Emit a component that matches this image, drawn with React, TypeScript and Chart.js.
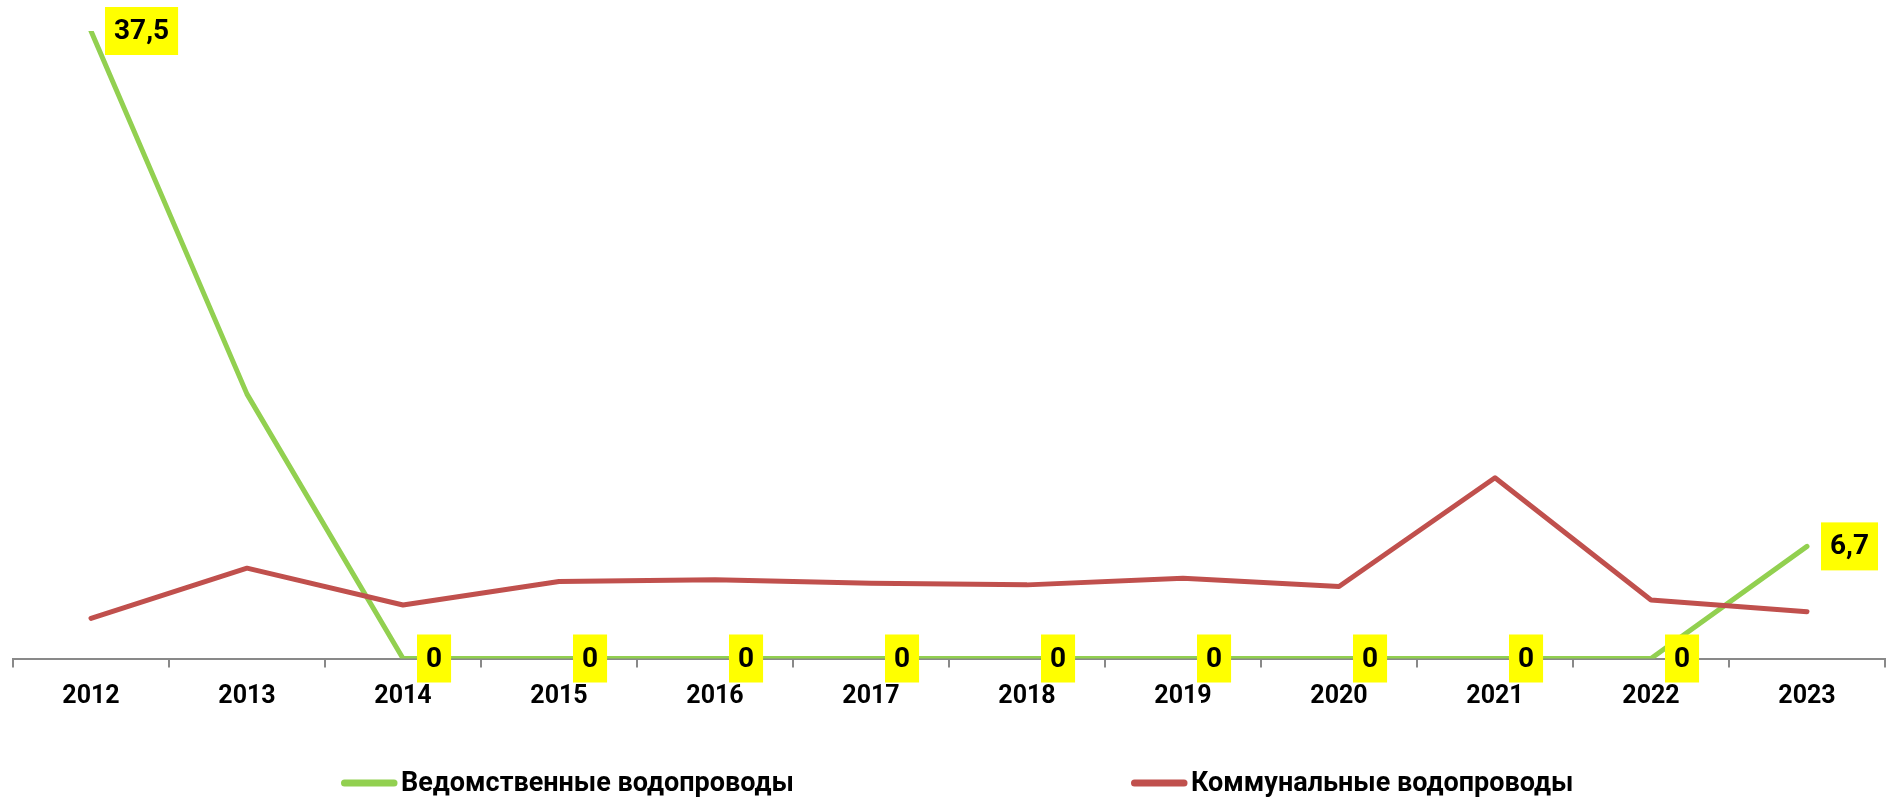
import React, { useEffect, useRef } from "react";
import { Chart, registerables } from "chart.js";

Chart.register(...registerables);

const years = ["2012", "2013", "2014", "2015", "2016", "2017", "2018", "2019", "2020", "2021", "2022", "2023"];
const vedomstvennye = [37.5, 15.8, 0, 0, 0, 0, 0, 0, 0, 0, 0, 6.7];
const kommunalnye = [2.4, 5.4, 3.2, 4.6, 4.7, 4.5, 4.4, 4.8, 4.3, 10.8, 3.5, 2.8];
const vedomstvennyeLabels = ["37,5", "", "0", "0", "0", "0", "0", "0", "0", "0", "0", "6,7"];
const seriesNames = ["Ведомственные водопроводы", "Коммунальные водопроводы"];

const GREEN = "#92D050";
const RED = "#C0504D";
const FONT = "Roboto, 'Noto Sans', sans-serif";

const labelPlugin = {
  id: "yellowLabels",
  afterDatasetsDraw(chart: any) {
    const ctx = chart.ctx;
    const meta = chart.getDatasetMeta(0);
    ctx.save();
    ctx.font = `bold 28px ${FONT}`;
    ctx.textAlign = "center";
    ctx.textBaseline = "middle";
    meta.data.forEach((pt: any, i: number) => {
      const txt = vedomstvennyeLabels[i];
      if (!txt) return;
      const w = ctx.measureText(txt).width + 18;
      const h = 48;
      const x0 = pt.x + 14;
      const y0 = pt.y - h / 2;
      ctx.fillStyle = "#FFFF00";
      ctx.fillRect(x0, y0, w, h);
      ctx.fillStyle = "#000000";
      ctx.fillText(txt, x0 + w / 2, pt.y + 1);
    });
    ctx.restore();
  },
};

const legendPlugin = {
  id: "customLegend",
  afterDraw(chart: any) {
    const ctx = chart.ctx;
    const positions = [341, 1131];
    const y = 783;
    ctx.save();
    ctx.font = `bold 27px ${FONT}`;
    ctx.textAlign = "left";
    ctx.textBaseline = "middle";
    chart.data.datasets.forEach((ds: any, i: number) => {
      const x = positions[i];
      ctx.strokeStyle = ds.borderColor;
      ctx.lineWidth = 7;
      ctx.lineCap = "round";
      ctx.beginPath();
      ctx.moveTo(x + 3.5, y);
      ctx.lineTo(x + 53, y);
      ctx.stroke();
      ctx.fillStyle = "#000000";
      ctx.fillText(ds.label, x + 60, y + 1);
    });
    ctx.restore();
  },
};

export default function App() {
  const ref = useRef<HTMLCanvasElement>(null);
  useEffect(() => {
    if (!ref.current) return;
    const chart = new Chart(ref.current, {
      type: "line",
      data: {
        labels: years,
        datasets: [
          {
            label: seriesNames[0],
            data: vedomstvennye,
            borderColor: GREEN,
            backgroundColor: GREEN,
            borderWidth: 5,
            pointRadius: 0,
            pointHoverRadius: 0,
            borderCapStyle: "round",
            borderJoinStyle: "round",
            tension: 0,
            order: 1,
          },
          {
            label: seriesNames[1],
            data: kommunalnye,
            borderColor: RED,
            backgroundColor: RED,
            borderWidth: 5,
            pointRadius: 0,
            pointHoverRadius: 0,
            borderCapStyle: "round",
            borderJoinStyle: "round",
            tension: 0,
            order: 0,
          },
        ],
      },
      options: {
        responsive: false,
        animation: false,
        layout: { padding: { left: 13, right: 11, top: 31, bottom: 81.5 } },
        plugins: {
          legend: { display: false },
          tooltip: { enabled: false },
        },
        scales: {
          x: {
            offset: true,
            afterFit: (scale: any) => {
              scale.height = 60;
            },
            grid: {
              offset: true,
              drawOnChartArea: false,
              drawTicks: true,
              tickLength: 9,
              color: "#898989",
              lineWidth: 2,
            },
            border: { display: true, color: "#898989", width: 2 },
            ticks: {
              color: "#000000",
              padding: 14,
              font: { family: FONT, size: 25, weight: "bold" },
              maxRotation: 0,
              autoSkip: false,
            },
          },
          y: {
            display: false,
            min: 0,
            max: 37.5,
          },
        },
      },
      plugins: [labelPlugin, legendPlugin],
    } as any);
    return () => chart.destroy();
  }, []);
  return (
    <div style={{ position: "fixed", left: 0, top: 0, width: 1896, height: 800, background: "#ffffff" }}>
      <canvas ref={ref} width={1896} height={800} />
    </div>
  );
}
